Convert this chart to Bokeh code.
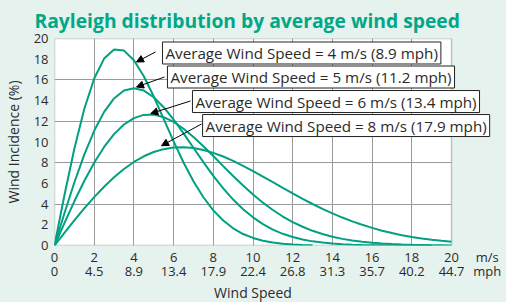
from bokeh.plotting import figure
from bokeh.models import Label, Arrow, NormalHead, LinearAxis, FixedTicker, Range1d, BoxAnnotation
from bokeh.embed import file_html
from bokeh.resources import INLINE

# ---- data ----
speed_ms = [0.0, 0.5, 1.0, 1.5, 2.0, 2.5, 3.0, 3.5, 4.0, 4.5, 5.0, 5.5, 6.0, 6.5, 7.0,
            7.5, 8.0, 8.5, 9.0, 9.5, 10.0, 10.5, 11.0, 11.5, 12.0, 12.5, 13.0, 13.5,
            14.0, 14.5, 15.0, 15.5, 16.0, 16.5, 17.0, 17.5, 18.0, 18.5, 19.0, 19.5, 20.0]

incidence_4ms = [0, 4.85, 9.35, 13.19, 16.13, 18.06, 18.93, 18.83, 17.90, 16.35, 14.39,
                 12.23, 10.06, 8.02, 6.20, 4.66, 3.39, 2.41, 1.66, 1.11, 0.73, 0.46,
                 0.28, 0.17, 0.10, 0.06, 0.03]
incidence_5ms = [0, 3.12, 6.09, 8.78, 11.08, 12.91, 14.21, 14.97, 15.20, 14.97, 14.32,
                 13.36, 12.17, 10.83, 9.44, 8.05, 6.73, 5.52, 4.44, 3.50, 2.72, 2.07,
                 1.54, 1.13, 0.82, 0.58, 0.40, 0.28, 0.19, 0.12, 0.08, 0.05, 0.03,
                 0.02, 0.01, 0.01, 0.00, 0.00, 0.00]
incidence_6ms = [0, 2.17, 4.27, 6.23, 8.00, 9.52, 10.76, 11.69, 12.31, 12.62, 12.65,
                 12.40, 11.94, 11.28, 10.49, 9.59, 8.64, 7.67, 6.71, 5.79, 4.92, 4.14,
                 3.43, 2.80, 2.26, 1.81, 1.42, 1.11, 0.85, 0.64, 0.48, 0.36, 0.26,
                 0.19, 0.14, 0.10, 0.07, 0.05, 0.03, 0.02, 0.01]
incidence_8ms = [0, 1.22, 2.42, 3.58, 4.67, 5.68, 6.59, 7.39, 8.07, 8.62, 9.03, 9.31,
                 9.47, 9.50, 9.42, 9.23, 8.95, 8.60, 8.18, 7.70, 7.19, 6.66, 6.12,
                 5.57, 5.03, 4.51, 4.01, 3.54, 3.10, 2.70, 2.33, 2.00, 1.70, 1.43,
                 1.20, 1.00, 0.83, 0.68, 0.56, 0.45, 0.36]

ms_ticks = [0, 2, 4, 6, 8, 10, 12, 14, 16, 18, 20]
ms_labels = ["0", "2", "4", "6", "8", "10", "12", "14", "16", "18", "20"]
mph_labels = ["0", "4.5", "8.9", "13.4", "17.9", "22.4", "26.8", "31.3", "35.7", "40.2", "44.7"]
y_ticks = [0, 2, 4, 6, 8, 10, 12, 14, 16, 18, 20]
y_grid = [4, 8, 12, 16]
x_grid = [2, 4, 6, 8, 10, 12, 14, 16, 18]

unit_ms = "m/s"
unit_mph = "mph"
x_title = "Wind Speed"
y_title = "Wind Incidence (%)"
chart_title = "Rayleigh distribution by average wind speed"

annotation_texts = [
    "Average Wind Speed = 4 m/s (8.9 mph)",
    "Average Wind Speed = 5 m/s (11.2 mph)",
    "Average Wind Speed = 6 m/s (13.4 mph)",
    "Average Wind Speed = 8 m/s (17.9 mph)",
]

# ---- style / layout ----
BG = "#e6f2ee"
CURVE = "#00a080"
TITLE = "#00a887"
TXT = "#2b2b2b"
FONT = "Open Sans"

PLOT_W = 397          # pixel width of the 0..20 m/s plot area
FRAME_W = 448         # frame extends to the right edge (room for boxes and units)
X_MAX = 20
UNIT_POS = 21.8       # where the unit names sit on the axis rows
TITLE_POS = 10        # where "Wind Speed" sits

p = figure(frame_width=FRAME_W, frame_height=207,
           x_range=Range1d(0, X_MAX * FRAME_W / PLOT_W), y_range=Range1d(0, 20),
           output_backend="svg", toolbar_location=None,
           min_border_left=50, min_border_right=0, min_border_top=31, min_border_bottom=56,
           background_fill_color=BG, border_fill_color=BG,
           outline_line_color=None)

p.title.text = chart_title
p.title.text_font = FONT
p.title.text_font_size = "19.3px"
p.title.text_font_style = "bold"
p.title.text_color = TITLE
p.title.align = "left"
p.title.offset = -20
p.title.standoff = 9

# white plot area with border
p.add_layout(BoxAnnotation(left=0, right=X_MAX, bottom=0, top=20,
                           fill_color="white", fill_alpha=1.0,
                           line_color="#4d4d4d", line_width=1.5, level="image"))

# y axis
ya = p.yaxis[0]
ya.ticker = FixedTicker(ticks=y_ticks)
ya.axis_label = y_title

# x axis rows
xa = p.xaxis[0]
xa.ticker = FixedTicker(ticks=ms_ticks + [UNIT_POS])
xa.major_label_overrides = {**{t: l for t, l in zip(ms_ticks, ms_labels)}, UNIT_POS: unit_ms}

xb = LinearAxis(ticker=FixedTicker(ticks=ms_ticks + [UNIT_POS]),
                major_label_overrides={**{t: l for t, l in zip(ms_ticks, mph_labels)}, UNIT_POS: unit_mph})
p.add_layout(xb, "below")

xc = LinearAxis(ticker=FixedTicker(ticks=[TITLE_POS]),
                major_label_overrides={TITLE_POS: x_title})
p.add_layout(xc, "below")

for ax in [ya, xa, xb, xc]:
    ax.axis_line_color = None
    ax.major_tick_line_color = None
    ax.minor_tick_line_color = None
    ax.major_tick_out = 0
    ax.major_tick_in = 0
    ax.major_label_text_font = FONT
    ax.major_label_text_font_size = "13px"
    ax.major_label_text_color = TXT
    ax.axis_label_text_font = FONT
    ax.axis_label_text_font_size = "14px"
    ax.axis_label_text_font_style = "normal"
    ax.axis_label_text_color = TXT

ya.major_label_standoff = 6
ya.axis_label_standoff = 8
xa.major_label_standoff = 2
xb.major_label_standoff = -7
xc.major_label_standoff = 0
xc.major_label_text_font_size = "14px"

p.xgrid.ticker = FixedTicker(ticks=x_grid)
p.ygrid.ticker = FixedTicker(ticks=y_grid)
p.ygrid[0].cross_bounds = (0, X_MAX)
p.xgrid[0].cross_bounds = (0, 20)
for g in [p.xgrid[0], p.ygrid[0]]:
    g.grid_line_color = "#9a9a9a"
    g.grid_line_width = 1

# curves
for series in [incidence_4ms, incidence_5ms, incidence_6ms, incidence_8ms]:
    p.line(speed_ms[:len(series)], series, line_color=CURVE, line_width=2)

# annotation boxes and arrows
box_pos = [(5.44, 18.60), (5.69, 16.28), (6.95, 13.91), (7.46, 11.59)]
arrow_pos = [((5.09, 18.70), (4.13, 17.73)),
             ((5.54, 16.28), (4.13, 15.31)),
             ((6.85, 13.96), (4.85, 12.75)),
             ((7.41, 11.74), (5.39, 9.64))]

for (s, e) in arrow_pos:
    p.add_layout(Arrow(end=NormalHead(size=7, fill_color="black", line_color="black"),
                       x_start=s[0], y_start=s[1], x_end=e[0], y_end=e[1],
                       line_color="black", line_width=1))

for txt, (bx, by) in zip(annotation_texts, box_pos):
    p.add_layout(Label(x=bx, y=by, text=txt, text_font=FONT, text_font_size="15.2px",
                       text_color=TXT, text_baseline="middle", text_align="left",
                       background_fill_color="white", border_line_color="#222222",
                       border_line_width=1, padding=(3, 1)))

html = file_html(p, INLINE, title="Rayleigh distribution")
html = html.replace("</head>", "<style>html,body{background:%s;overflow:hidden;}</style></head>" % BG, 1)
open("out.html", "w").write(html)
